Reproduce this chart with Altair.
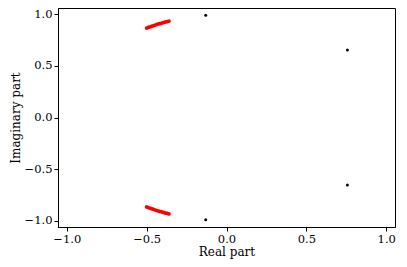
import altair as alt
import pandas as pd

# Red trajectory (upper branch), mirrored for lower branch
red_x = [-0.50, -0.49, -0.48, -0.47, -0.46, -0.45, -0.44, -0.43, -0.42, -0.41,
         -0.40, -0.39, -0.38, -0.37, -0.36]
red_y = [0.866, 0.872, 0.877, 0.883, 0.888, 0.893, 0.898, 0.903, 0.908, 0.912,
         0.917, 0.921, 0.925, 0.929, 0.933]

# Black points
blk_x = [-0.13, -0.13, 0.757, 0.757]
blk_y = [0.99, -0.99, 0.653, -0.653]

xticks = [-1.0, -0.5, 0.0, 0.5, 1.0]
yticks = [-1.0, -0.5, 0.0, 0.5, 1.0]

red_df = pd.DataFrame({
    "re": red_x + red_x,
    "im": red_y + [-v for v in red_y],
})
blk_df = pd.DataFrame({"re": blk_x, "im": blk_y})

FONT = "DejaVu Serif"

xs = alt.Scale(domain=[-1.055, 1.055], nice=False, zero=False)
ys = alt.Scale(domain=[-1.06, 1.06], nice=False, zero=False)

xaxis = alt.Axis(values=xticks, format=".1f", grid=False, title="Real part",
                 tickSize=4, tickColor="black", domainColor="black",
                 labelFont=FONT, titleFont=FONT, labelFontSize=11.5, titleFontSize=12,
                 titleFontWeight="normal", labelColor="black", titleColor="black",
                 labelPadding=2, titlePadding=2)
yaxis = alt.Axis(values=yticks, format=".1f", grid=False, title="Imaginary part",
                 tickSize=4, tickColor="black", domainColor="black",
                 labelFont=FONT, titleFont=FONT, labelFontSize=11.5, titleFontSize=12,
                 titleFontWeight="normal", labelColor="black", titleColor="black",
                 labelPadding=2, titlePadding=2)

red = alt.Chart(red_df).mark_circle(color="red", size=14, opacity=1).encode(
    x=alt.X("re:Q", scale=xs, axis=xaxis),
    y=alt.Y("im:Q", scale=ys, axis=yaxis),
)
blk = alt.Chart(blk_df).mark_circle(color="#1a0000", size=9, opacity=1).encode(
    x=alt.X("re:Q", scale=xs, axis=xaxis),
    y=alt.Y("im:Q", scale=ys, axis=yaxis),
)

chart = (red + blk).properties(
    width=337, height=219,
    autosize="none",
    padding={"left": 50, "top": 0, "right": 4, "bottom": 32},
).configure_view(stroke="black", strokeWidth=1)

chart.save("out.html", embed_options={"renderer": "svg", "actions": False})
